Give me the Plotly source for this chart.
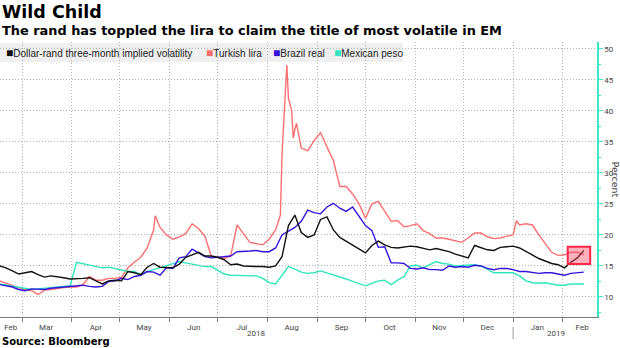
import pandas as pd
import plotly.graph_objects as go

TITLE = "Wild Child"
SUBTITLE = "The rand has toppled the lira to claim the title of most volatile in EM"
SOURCE = "Source: Bloomberg"
Y_TITLE = "Percent"

# Observations every four days, Feb 15 2018 onward
dates = pd.date_range("2018-02-15", periods=92, freq="4D")

rand_vol = [
    15.0, 14.7, 14.2, 13.7, 13.9, 14.1, 13.6, 13.2, 13.4, 13.3,
    13.1, 12.9, 12.9, 13.0, 13.1, 12.6, 12.1, 12.6, 12.7, 12.6,
    14.1, 13.9, 13.6, 14.8, 15.4, 14.8, 14.8, 14.7, 15.3, 16.4,
    16.8, 17.2, 16.6, 16.6, 16.4, 16.0, 15.2, 15.3, 15.0, 14.9,
    14.9, 14.9, 14.8, 15.0, 16.5, 21.5, 23.2, 20.4, 19.6, 20.0,
    22.5, 22.9, 20.8, 19.6, 19.0, 18.4, 17.7, 17.1, 18.3, 19.0,
    18.4, 18.0, 17.9, 18.1, 18.2, 18.1, 17.8, 17.6, 17.8, 17.6,
    17.3, 16.9, 16.6, 16.3, 18.3, 18.0, 17.6, 17.5, 18.0, 18.1,
    18.2, 17.9, 17.3, 16.7, 16.2, 15.8, 15.4, 15.2, 14.7, 15.6,
    16.3, 17.5,
]

lira_vol = [
    12.6, 12.2, 11.8, 11.5, 11.2, 11.0, 10.4, 11.1, 11.2, 11.4,
    11.5, 11.6, 11.6, 12.0, 13.3, 12.7, 12.7, 13.0, 13.0, 13.2,
    14.7, 15.6, 16.4, 17.9, 20.8, 21.2, 20.0, 19.3, 19.7, 20.2,
    21.8, 21.0, 19.8, 16.5, 16.4, 16.2, 16.6, 21.6, 20.2, 18.8,
    18.6, 18.4, 19.3, 20.8, 33.0, 42.0, 37.0, 34.0, 33.6, 35.2,
    36.5, 34.2, 32.0, 27.8, 27.8, 26.6, 25.0, 22.7, 25.0, 25.4,
    23.8, 22.2, 22.3, 21.3, 21.5, 21.8, 20.7, 20.2, 19.5, 19.5,
    19.3, 19.0, 18.8, 19.5, 20.3, 20.3, 19.7, 19.4, 19.5, 19.8,
    20.0, 21.6, 21.8, 21.6, 20.0, 18.5, 17.2, 16.7, 16.8, 17.2,
    17.2, 16.8,
]

# Extra lira observations around its sharp swings
lira_extra_dates = ["2018-05-23", "2018-08-09", "2018-08-13", "2018-08-16",
                    "2018-08-17", "2018-08-19", "2019-01-03"]
lira_extra_vol = [23.1, 23.2, 47.4, 40.0, 35.6, 38.0, 22.3]

real_vol = [
    12.0, 11.8, 11.6, 11.2, 11.0, 11.3, 11.3, 11.2, 11.4, 11.5,
    11.6, 11.6, 11.7, 11.9, 11.7, 11.6, 11.7, 12.5, 12.6, 13.0,
    12.8, 13.3, 13.5, 14.1, 14.0, 13.5, 14.7, 14.6, 16.3, 16.5,
    17.7, 17.1, 16.5, 16.3, 16.4, 16.4, 16.6, 17.3, 17.3, 17.4,
    17.5, 17.3, 17.3, 17.9, 20.0, 20.6, 21.2, 22.2, 24.0, 23.6,
    23.4, 24.5, 25.1, 24.3, 23.8, 24.5, 23.0, 21.5, 20.7, 18.0,
    18.1, 15.5, 15.5, 15.4, 14.6, 14.5, 14.7, 14.4, 14.4, 14.3,
    15.0, 14.8, 14.9, 14.8, 15.1, 15.0, 14.6, 14.4, 14.6, 14.6,
    14.4, 14.1, 14.1, 14.0, 13.8, 13.9, 13.9, 13.7, 13.5, 13.8,
    13.9, 14.0,
]

peso_vol = [
    12.1, 11.9, 11.7, 11.5, 11.4, 11.2, 11.3, 11.4, 11.6, 11.6,
    11.7, 11.8, 15.6, 15.4, 15.2, 15.0, 14.7, 14.8, 14.6, 14.4,
    14.1, 14.1, 13.6, 14.1, 14.4, 14.8, 15.0, 15.4, 15.7, 15.5,
    15.3, 15.1, 14.9, 14.9, 14.3, 13.7, 13.5, 13.5, 13.4, 13.5,
    13.4, 13.0, 12.3, 12.1, 13.5, 14.9, 14.5, 14.0, 13.8, 13.9,
    14.2, 13.9, 13.5, 13.2, 12.9, 12.5, 12.1, 11.8, 12.2, 12.6,
    12.7, 12.0, 12.7, 13.3, 15.0, 15.1, 14.7, 15.2, 15.7, 15.4,
    15.3, 15.0, 15.1, 15.2, 15.2, 15.0, 14.5, 13.9, 13.9, 13.9,
    13.9, 13.4, 12.6, 12.3, 12.2, 12.3, 12.1, 11.9, 11.9, 12.1,
    12.1, 12.1,
]

series_names = ["Dollar-rand three-month implied volatility", "Turkish lira",
                "Brazil real", "Mexican peso"]
series_colors = ["#111111", "#ff6f6f", "#3414dc", "#2de6bd"]

month_tick_dates = ["2018-02-22", "2018-03-16", "2018-04-16", "2018-05-16",
                    "2018-06-16", "2018-07-16", "2018-08-16", "2018-09-16",
                    "2018-10-16", "2018-11-16", "2018-12-16", "2019-01-16",
                    "2019-02-13"]
month_tick_text = ["Feb", "Mar", "Apr", "May", "Jun", "Jul", "Aug", "Sep",
                   "Oct", "Nov", "Dec", "Jan", "Feb"]
year_label_dates = ["2018-07-25", "2019-01-28"]
year_labels = ["2018", "2019"]
year_break = "2019-01-01"

highlight_dates = ["2019-02-04", "2019-02-18"]
highlight_range = [15.3, 18.1]

x_range = ["2018-02-15 07:00", "2019-02-22 06:00"]
y_range = [6.77, 51.1]

TEAL_AXIS = "#3de6c6"
GRID = "#b4b4b4"
GRID_DASH = "1px,2px"

lira = (
    pd.DataFrame({"date": list(dates) + list(pd.to_datetime(lira_extra_dates)),
                  "vol": lira_vol + lira_extra_vol})
    .sort_values("date")
)

fig = go.Figure()
series_data = [
    (dates, rand_vol),
    (lira["date"], lira["vol"]),
    (dates, real_vol),
    (dates, peso_vol),
]
# Lira underneath, rand on top
draw_order = [1, 3, 2, 0]
for i in draw_order:
    xs, ys = series_data[i]
    fig.add_trace(go.Scatter(
        x=xs, y=ys, mode="lines", name=series_names[i],
        line=dict(color=series_colors[i], width=1.4),
        showlegend=False,
    ))

# Plot area: 597 x 275 px
W, H = 620, 348
L, R, T, B = 0, 23, 42, 31
pw, ph = W - L - R, H - T - B


def px_x(px):
    return (px - L) / pw


def px_y(py):
    return (H - B - py) / ph


shapes = [
    # legend strip
    dict(type="rect", xref="paper", yref="paper",
         x0=px_x(0), x1=px_x(403), y0=px_y(62), y1=px_y(43),
         fillcolor="#efefef", line=dict(width=0), layer="below"),
    # highlight box on the latest rand move
    dict(type="rect", xref="x", yref="y",
         x0=highlight_dates[0], x1=highlight_dates[1],
         y0=highlight_range[0], y1=highlight_range[1],
         fillcolor="rgba(255,70,95,0.42)", line=dict(color="#ff2748", width=2),
         layer="above"),
    # year divider under the axis
    dict(type="line", xref="x", yref="paper", x0=year_break, x1=year_break,
         y0=px_y(327), y1=px_y(339), line=dict(color="#9a9a9a", width=1)),
]

annotations = [
    dict(text="<b>" + TITLE + "</b>", xref="paper", yref="paper",
         x=px_x(0), y=px_y(12), xanchor="left", yanchor="middle",
         showarrow=False, font=dict(family="DejaVu Sans", size=17.5, color="#000")),
    dict(text="<b>" + SUBTITLE + "</b>", xref="paper", yref="paper",
         x=px_x(0), y=px_y(31), xanchor="left", yanchor="middle",
         showarrow=False, font=dict(family="DejaVu Sans", size=12.9, color="#000")),
    dict(text="<b>" + SOURCE + "</b>", xref="paper", yref="paper",
         x=px_x(0), y=px_y(341), xanchor="left", yanchor="middle",
         showarrow=False, font=dict(family="DejaVu Sans", size=10, color="#000")),
    dict(text=Y_TITLE, xref="paper", yref="paper", x=px_x(615), y=0.5,
         xanchor="center", yanchor="middle", textangle=90, showarrow=False,
         font=dict(family="DejaVu Sans", size=9.5, color="#444")),
]

for d, t in zip(year_label_dates, year_labels):
    annotations.append(dict(text=t, xref="x", yref="paper", x=d, y=px_y(333),
                            xanchor="center", yanchor="middle", showarrow=False,
                            font=dict(family="Roboto", size=8, color="#444")))

legend_x = [4, 204, 271, 332]
for x0, name, col in zip(legend_x, series_names, series_colors):
    annotations.append(dict(
        text=f"<span style='color:{col};font-size:12px'>■</span>{name}",
        xref="paper", yref="paper", x=px_x(x0), y=px_y(52.5),
        xanchor="left", yanchor="middle", showarrow=False,
        font=dict(family="Liberation Sans", size=10, color="#222")))

fig.update_layout(
    width=W, height=H,
    margin=dict(l=L, r=R, t=T, b=B, pad=0),
    paper_bgcolor="white", plot_bgcolor="white",
    showlegend=False,
    shapes=shapes, annotations=annotations,
    xaxis=dict(
        type="date", range=x_range,
        tickmode="array", tickvals=month_tick_dates, ticktext=month_tick_text,
        ticks="", showgrid=False, zeroline=False,
        showline=True, linecolor="#7a7a7a", linewidth=1,
        tickfont=dict(family="Roboto", size=8, color="#444"),
        ticklabelstandoff=2,
        minor=dict(dtick="M1", tick0="2018-03-01", ticks="outside", ticklen=4,
                   tickcolor="#7a7a7a", showgrid=True, gridcolor=GRID,
                   griddash=GRID_DASH, gridwidth=1),
    ),
    yaxis=dict(
        side="right", range=y_range, tick0=0, dtick=5,
        ticks="outside", ticklen=4, tickcolor=TEAL_AXIS,
        showline=True, linecolor=TEAL_AXIS, linewidth=1.5,
        showgrid=True, gridcolor=GRID, griddash=GRID_DASH, gridwidth=1,
        zeroline=False,
        tickfont=dict(family="Roboto", size=8, color="#444"),
        minor=dict(dtick=2.5, tick0=0, ticks="outside", ticklen=2,
                   tickcolor=TEAL_AXIS, showgrid=False),
    ),
)

fig.write_html("out.html")
